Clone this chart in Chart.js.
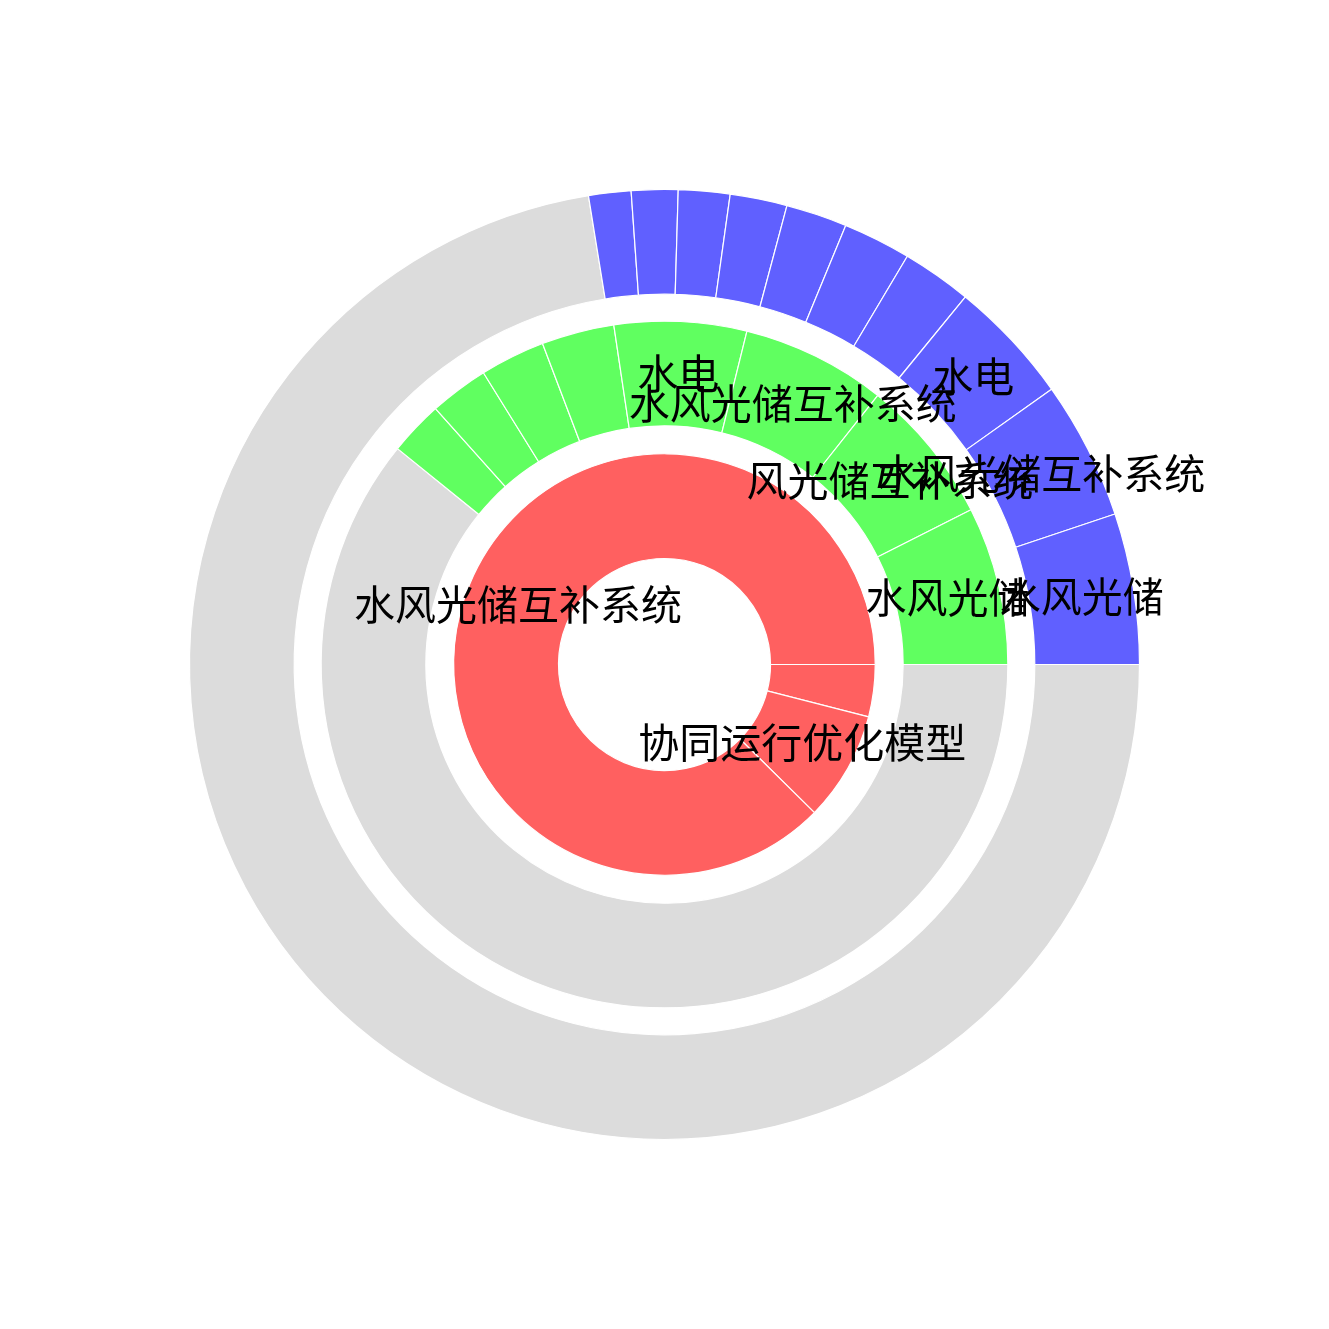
<!DOCTYPE html>
<html lang="zh">
<head>
<meta charset="utf-8">
<title>水风光储互补系统</title>
<script src="https://cdn.jsdelivr.net/npm/chart.js@4.4.1/dist/chart.umd.min.js"></script>
<style>
	html, body { margin: 0; padding: 0; background: #ffffff; }
	.chart-box { position: relative; width: 1329px; height: 1329px; }
</style>
</head>
<body>
<div class="chart-box"><canvas id="ringChart"></canvas></div>
<script>
// --- Ring data: share of the full circle (%), counter-clockwise from 3 o'clock ---
const innerLabels = ["水风光储互补系统", "协同运行优化模型", ""];
const innerValues = [87.6, 8.4, 4.0];

const middleLabels = ["水风光储", "风光储互补系统", "水风光储互补系统", "水电", "", "", "", ""];
const middleValues = [7.44, 6.89, 6.81, 6.22, 3.42, 3.06, 2.78, 2.56];

const outerLabels = ["水风光储", "水风光储互补系统", "水电", "", "", "", "", "", "", ""];
const outerValues = [5.13, 4.71, 4.24, 2.38, 2.31, 2.08, 1.94, 1.75, 1.58, 1.44];

const innerColor = "#ff6060";
const middleColor = "#60ff60";
const outerColor = "#6060ff";
const restColor = "#dcdcdc";

document.addEventListener("DOMContentLoaded", function () {
	// Turns one ring into a dataset; the rest of the circle is filled grey
	function buildRing(values, labels, color) {
		const data = values.slice();
		const colors = values.map(() => color);
		const names = labels.slice();
		const total = values.reduce((a, b) => a + b, 0);
		if (total < 99.9) {
			data.push(100 - total);
			colors.push(restColor);
			names.push("");
		}
		// Chart.js draws clockwise, so reverse to get the counter-clockwise order
		return {
			data: data.reverse(),
			backgroundColor: colors.reverse(),
			segmentLabels: names.reverse(),
			borderColor: "#ffffff",
			borderWidth: 1.2,
			weight: 105,
		};
	}

	// Transparent ring used as the white gap between two rings
	function gapRing(size) {
		return {
			data: [1],
			backgroundColor: "rgba(0,0,0,0)",
			borderWidth: 0,
			weight: size,
		};
	}

	// Writes each segment's name in the middle of its arc
	const ringLabelPlugin = {
		id: "ringLabels",
		afterDatasetsDraw(chart) {
			const ctx = chart.ctx;
			ctx.save();
			ctx.font = '41px "Noto Sans CJK SC", "Noto Sans", sans-serif';
			ctx.fillStyle = "#000000";
			ctx.textAlign = "center";
			ctx.textBaseline = "middle";
			chart.data.datasets.forEach((ds, i) => {
				if (!ds.segmentLabels) return;
				chart.getDatasetMeta(i).data.forEach((arc, j) => {
					const text = ds.segmentLabels[j];
					if (!text) return;
					const p = arc.getCenterPoint();
					ctx.fillText(text, p.x, p.y);
				});
			});
			ctx.restore();
		},
	};

	new Chart(document.getElementById("ringChart"), {
		type: "doughnut",
		data: {
			datasets: [
				buildRing(outerValues, outerLabels, outerColor), // outermost first
				gapRing(27),
				buildRing(middleValues, middleLabels, middleColor),
				gapRing(28),
				buildRing(innerValues, innerLabels, innerColor),
			],
		},
		options: {
			responsive: true,
			maintainAspectRatio: false,
			animation: false,
			events: [],
			rotation: 90, // start at 3 o'clock
			radius: 475,
			cutout: "22.32%",
			plugins: {
				legend: { display: false },
				tooltip: { enabled: false },
			},
		},
		plugins: [ringLabelPlugin],
	});
});
</script>
</body>
</html>
